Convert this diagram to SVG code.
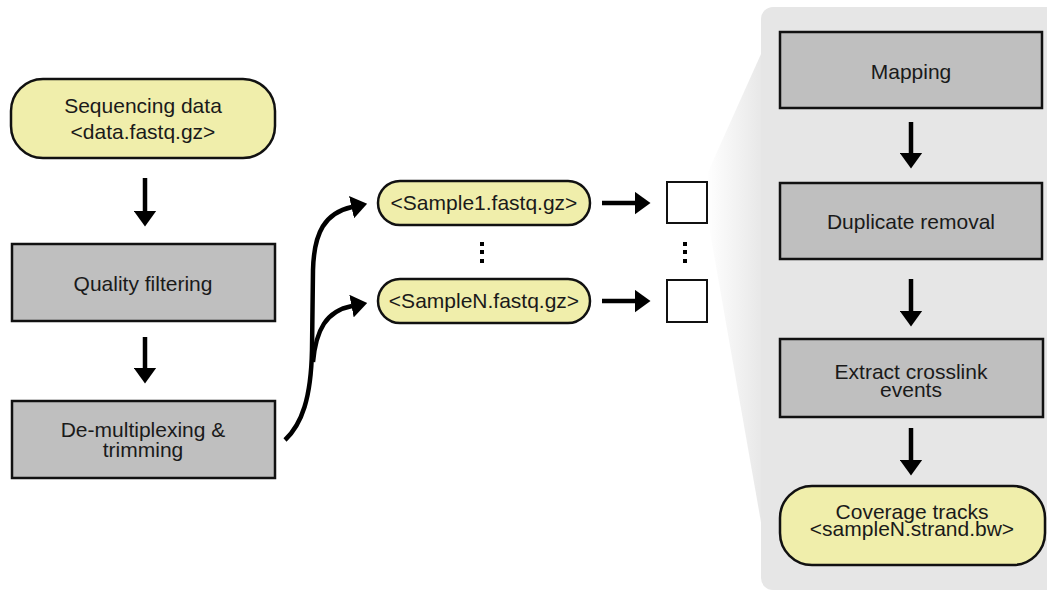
<svg xmlns="http://www.w3.org/2000/svg" width="1047" height="592" viewBox="0 0 1047 592">
<style>
  .box { fill: #bfbfbf; stroke: #111; stroke-width: 2.5; }
  .pill { fill: #f0eeab; stroke: #111; stroke-width: 2.5; }
  .sq { fill: #fff; stroke: #111; stroke-width: 2; }
  .t { font-family: "Liberation Sans", Arial, sans-serif; font-size: 21px; fill: #1a1a1a; text-anchor: middle; }
  .conn { fill: none; stroke: #000; stroke-width: 4.5; }
  .dot { fill: #000; }
</style>
<defs>
  <marker id="ah" viewBox="0 0 16 23" refX="0.5" refY="11.5" markerWidth="16" markerHeight="23" orient="auto" markerUnits="userSpaceOnUse">
    <path d="M0,0 L16,11.5 L0,23 z" fill="#000"/>
  </marker>
  <linearGradient id="fade" gradientUnits="userSpaceOnUse" x1="706" y1="0" x2="766" y2="0">
    <stop offset="0" stop-color="#e6e6e6" stop-opacity="0"/>
    <stop offset="1" stop-color="#e6e6e6" stop-opacity="1"/>
  </linearGradient>
</defs>

<g id="panel">
  <path d="M761,54 L708,172 L710,232 L762,528 Z" fill="url(#fade)"/>
  <rect x="761" y="7" width="310" height="583" rx="12" fill="#e6e6e6"/>
</g>

<g id="connectors">
  <line class="conn" x1="145" y1="178" x2="145" y2="211" marker-end="url(#ah)"/>
  <line class="conn" x1="145" y1="337" x2="145" y2="368" marker-end="url(#ah)"/>
  <path class="conn" d="M285,440 C302,424 311,398 312,350 L313,270 C314,232 325,213 352,207" marker-end="url(#ah)"/>
  <path class="conn" d="M313,362 C316,330 326,311 352,306" marker-end="url(#ah)"/>
  <line class="conn" x1="602" y1="203" x2="635" y2="203" marker-end="url(#ah)"/>
  <line class="conn" x1="602" y1="301" x2="635" y2="301" marker-end="url(#ah)"/>
  <line class="conn" x1="911" y1="122" x2="911" y2="153" marker-end="url(#ah)"/>
  <line class="conn" x1="911" y1="279" x2="911" y2="311" marker-end="url(#ah)"/>
  <line class="conn" x1="911" y1="428" x2="911" y2="460" marker-end="url(#ah)"/>
</g>

<g id="n-seq">
  <rect class="pill" x="11" y="79" width="264" height="79" rx="32"/>
  <text class="t" x="143" y="113">Sequencing data</text>
  <text class="t" x="143" y="139">&lt;data.fastq.gz&gt;</text>
</g>
<g id="n-quality">
  <rect class="box" x="12" y="244" width="263" height="77"/>
  <text class="t" x="143" y="291">Quality filtering</text>
</g>
<g id="n-demux">
  <rect class="box" x="12" y="401" width="263" height="77"/>
  <text class="t" x="143" y="437">De-multiplexing &amp;</text>
  <text class="t" x="143" y="457">trimming</text>
</g>
<g id="n-sample1">
  <rect class="pill" x="378" y="181" width="212" height="44" rx="22"/>
  <text class="t" x="484" y="210">&lt;Sample1.fastq.gz&gt;</text>
</g>
<g id="n-sampleN">
  <rect class="pill" x="378" y="279" width="212" height="44" rx="22"/>
  <text class="t" x="484" y="308">&lt;SampleN.fastq.gz&gt;</text>
</g>
<g id="dots1">
  <rect class="dot" x="480" y="242" width="4" height="4"/>
  <rect class="dot" x="480" y="250" width="4" height="4"/>
  <rect class="dot" x="480" y="259" width="4" height="4"/>
</g>
<g id="n-sq1">
  <rect class="sq" x="667" y="182" width="40" height="41"/>
</g>
<g id="n-sqN">
  <rect class="sq" x="667" y="280" width="40" height="42"/>
</g>
<g id="dots2">
  <rect class="dot" x="683" y="242" width="4" height="4"/>
  <rect class="dot" x="683" y="250" width="4" height="4"/>
  <rect class="dot" x="683" y="259" width="4" height="4"/>
</g>
<g id="n-mapping">
  <rect class="box" x="780" y="32" width="262" height="76"/>
  <text class="t" x="911" y="79">Mapping</text>
</g>
<g id="n-dup">
  <rect class="box" x="780" y="183" width="262" height="76"/>
  <text class="t" x="911" y="229">Duplicate removal</text>
</g>
<g id="n-extract">
  <rect class="box" x="780" y="339" width="263" height="78"/>
  <text class="t" x="911" y="379">Extract crosslink</text>
  <text class="t" x="911" y="397">events</text>
</g>
<g id="n-coverage">
  <rect class="pill" x="780" y="486" width="265" height="79" rx="32"/>
  <text class="t" x="912" y="519">Coverage tracks</text>
  <text class="t" x="912" y="536">&lt;sampleN.strand.bw&gt;</text>
</g>
</svg>
